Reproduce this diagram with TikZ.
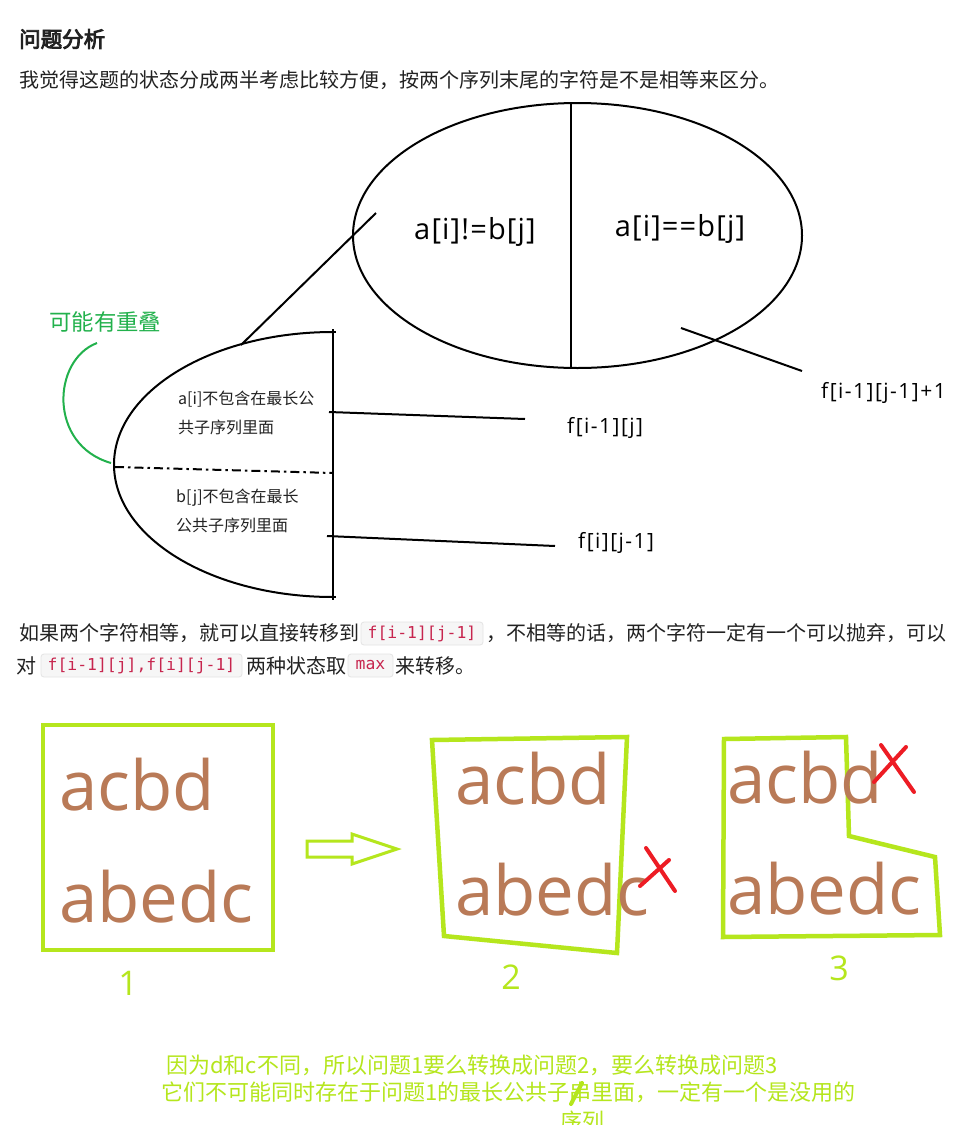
\documentclass[tikz,border=0pt]{standalone}
\usepackage{fontspec}
\setmainfont{Noto Sans CJK SC}
\newfontfamily\cjkb[FakeBold=4]{Noto Sans CJK SC}
\newfontfamily\os{Open Sans}
\newfontfamily\osl[LetterSpace=4]{Open Sans}
\newfontfamily\oslf[LetterSpace=7]{Open Sans}
\newfontfamily\mono{DejaVu Sans Mono}
\usetikzlibrary{shapes.geometric}
\definecolor{paintlime}{RGB}{181,230,29}
\definecolor{paintgreen}{RGB}{34,177,76}
\definecolor{paintbrown}{RGB}{185,122,87}
\definecolor{paintred}{RGB}{237,28,36}
\definecolor{codered}{RGB}{199,37,78}
\definecolor{codebg}{RGB}{246,246,246}
\definecolor{codeborder}{RGB}{228,228,228}
\definecolor{textdark}{RGB}{34,34,34}
\tikzset{
  txt/.style={anchor=west, inner sep=0pt, text=textdark, font=\fontsize{20}{24}\selectfont},
  codebox/.style={draw=codeborder, fill=codebg, rounded corners=3pt, line width=0.8pt, inner sep=0pt, text=codered, font=\mono\fontsize{16.4}{20}\selectfont},
  ink/.style={line width=2pt, black},
  small/.style={anchor=west, inner sep=0pt, text=textdark, font=\fontsize{16}{19}\selectfont},
  big/.style={inner sep=0pt, text=black, font=\osl\fontsize{29}{32}\selectfont},
  flabel/.style={anchor=west, inner sep=0pt, text=black, font=\oslf\fontsize{21}{24}\selectfont},
  limeline/.style={draw=paintlime, line width=4.5pt, line join=miter},
  word/.style={anchor=base west, inner sep=0pt, text=paintbrown, font=\os\fontsize{69}{72}\selectfont},
  num/.style={inner sep=0pt, text=paintlime, font=\os\fontsize{34}{36}\selectfont},
  cross/.style={draw=paintred, line width=4pt, line cap=round},
  note/.style={anchor=west, inner sep=0pt, text=paintlime, font=\fontsize{22}{26}\selectfont},
}
\begin{document}
\begin{tikzpicture}[x=1pt,y=-1pt]
\fill[white] (0,0) rectangle (966,1125);
\clip (0,0) rectangle (966,1125);
\useasboundingbox (0,0) rectangle (966,1125);

% heading and first paragraph
\node[anchor=west, inner sep=0pt, text=textdark, font=\cjkb\fontsize{21.5}{24}\selectfont] (title) at (19,39) {问题分析};
\node[txt] (p1) at (19,80) {我觉得这题的状态分成两半考虑比较方便，按两个序列末尾的字符是不是相等来区分。};

% big ellipse
\node[draw, ellipse, line width=2pt, minimum width=449pt, minimum height=265pt, inner sep=0pt] (E) at (577.5,235.5) {};
\coordinate (Etop) at (571,103);
\coordinate (Ebot) at (571,368);
\draw[ink] (Etop) -- (Ebot);
\node[big] (neq) at (475,232) {a[i]!=b[j]};
\node[big] (eq) at (680,229) {a[i]==b[j]};

% line to equal label
\coordinate (eqA) at (681,328);
\coordinate (eqB) at (802,371);
\draw[ink] (eqA) -- (eqB);
\node[flabel] (feq) at (821,393) {f[i-1][j-1]+1};

% half ellipse
\coordinate (Htop) at (333,332);
\coordinate (Hbot) at (333,597);
\coordinate (Htip) at (115,467);
\draw[ink] (Htop) arc[start angle=270, end angle=90, x radius=219, y radius=132.5];
\draw[ink] (333,329) -- (333,600);
\draw[ink] (329,332) -- (336,332);
\draw[ink] (329,597) -- (336,597);
\coordinate (Hmid) at (333,473);
\draw[ink, line width=2pt, dash pattern=on 9pt off 4pt on 2.5pt off 4pt] (Htip) -- (Hmid);

% connector half ellipse -> ellipse
\coordinate (cA) at (241,345);
\coordinate (cB) at (376,213);
\draw[ink] (cA) -- (cB);

\node[small] (t1) at (178,399) {a[i]不包含在最长公};
\node[small] (t2) at (178,427) {共子序列里面};
\node[small] (t3) at (176,498) {b[j]不包含在最长};
\node[small] (t4) at (176,525) {公共子序列里面};

\coordinate (l1A) at (329,412);
\coordinate (l1B) at (525,419);
\draw[ink] (l1A) -- (l1B);
\node[flabel] (f1) at (567,428) {f[i-1][j]};
\coordinate (l2A) at (327,536);
\coordinate (l2B) at (555,546);
\draw[ink] (l2A) -- (l2B);
\node[flabel] (f2) at (578,543) {f[i][j-1]};

% overlap note
\node[anchor=west, inner sep=0pt, text=paintgreen, font=\fontsize{22.4}{26}\selectfont] (ov) at (49,322) {可能有重叠};
\coordinate (gA) at (97,343);
\coordinate (gB) at (111,463);
\draw[paintgreen, line width=2pt] (gA) .. controls (52,360) and (48,445) .. (gB);

% second paragraph
\node[txt] (p2a) at (19,633.5) {如果两个字符相等，就可以直接转移到};
\node[codebox, minimum width=122pt, minimum height=23pt] (c1) at (422,633.5) {f[i-1][j-1]};
\node[txt] (p2b) at (486,633.5) {，不相等的话，两个字符一定有一个可以抛弃，可以};
\node[txt] (p3a) at (16,665.5) {对};
\node[codebox, minimum width=201pt, minimum height=23pt] (c2) at (141.5,665.5) {f[i-1][j],f[i][j-1]};
\node[txt] (p3b) at (246,665.5) {两种状态取};
\node[codebox, minimum width=45pt, minimum height=23pt] (c3) at (370.5,665.5) {max};
\node[txt] (p3c) at (395,665.5) {来转移。};

% box 1
\draw[limeline] (43,725) rectangle (273,950);
\node[word] (w1a) at (59,810) {acbd};
\node[word] (w1b) at (59,922) {abedc};
\node[num] (n1) at (128,983) {1};

% hollow arrow
\draw[draw=paintlime, line width=3pt, line join=miter] (307,841) -- (352,841) -- (352,834) -- (397,849) -- (352,864) -- (352,857) -- (307,857) -- cycle;

% box 2
\draw[limeline] (432,740) -- (627,737) -- (617,953) -- (444,936) -- cycle;
\node[word] (w2a) at (455,804) {acbd};
\node[word] (w2b) at (455,915) {abedc};
\node[num] (n2) at (511,977) {2};
\draw[cross] (640,886) -- (669,860);
\draw[cross] (646,848) -- (675,891);

% box 3
\draw[limeline] (724,739) -- (846,737) -- (849,836) -- (935,857) -- (940,935) -- (723,937) -- cycle;
\node[word] (w3a) at (727,803) {acbd};
\node[word] (w3b) at (727,914) {abedc};
\node[num] (n3) at (839,968) {3};
\draw[cross] (874,782) -- (906,747);
\draw[cross] (881,745) -- (914,792);

% bottom note
\node[note] (b1) at (166,1065) {因为d和c不同，所以问题1要么转换成问题2，要么转换成问题3};
\node[note] (b2) at (161,1092) {它们不可能同时存在于问题1的最长公共子串里面，一定有一个是没用的};
\node[note] (b3) at (560,1121) {序列};
\draw[paintlime, line width=4pt, line cap=round] (571,1104) -- (582,1083);
\end{tikzpicture}
\end{document}
